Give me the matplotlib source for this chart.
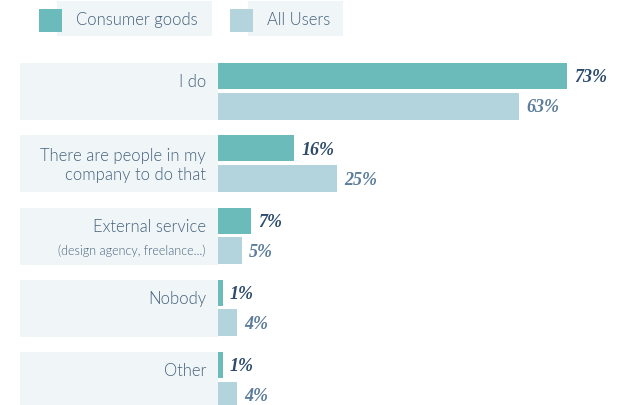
import matplotlib.pyplot as plt
from matplotlib.patches import Rectangle

categories = ["I do", "There are people in my\ncompany to do that", "External service",
              "Nobody", "Other"]
sublabels = ["", "", "(design agency, freelance...)", "", ""]
consumer = [73, 16, 7, 1, 1]
all_users = [63, 25, 5, 4, 4]
series_names = ["Consumer goods", "All Users"]

teal = "#6bbbba"
light = "#b3d3dd"
box = "#f0f5f8"
txt = "#44617c"

# 1 x-unit = 1 %, 4.78 px per %, y in pixels (top down)
px = 4.78
fig = plt.figure(figsize=(6.3, 4.06), dpi=100)
ax = fig.add_axes([0, 0, 1, 1])
ax.set_xlim(-218 / px, (630 - 218) / px)
ax.set_ylim(406, 0)
ax.axis("off")

lbl = dict(family="Lato", weight=300, color=txt)

step = 72.25
for i, cat in enumerate(categories):
    top = 64 + i * step
    ax.add_patch(Rectangle((-198 / px, top), 198 / px, 57, color=box, lw=0))
    ax.barh(top + 13, consumer[i], height=26, left=0, color=teal)
    ax.barh(top + 43, all_users[i], height=27, left=0, color=light)
    ax.text(consumer[i] + 7 / px, top + 14, f"{consumer[i]}%", ha="left", va="center",
            family="Liberation Serif", weight="bold", style="italic", size=13, color="#2c4b6b")
    ax.text(all_users[i] + 7 / px, top + 44, f"{all_users[i]}%", ha="left", va="center",
            family="Liberation Serif", weight="bold", style="italic", size=13, color="#5b7d9b")
    if sublabels[i]:
        ax.text(-12 / px, top + 19, cat, ha="right", va="center", size=12, **lbl)
        ax.text(-12 / px, top + 42, sublabels[i], ha="right", va="center", size=9, **lbl)
    elif "\n" in cat:
        ax.text(-12 / px, top + 29, cat, ha="right", va="center", size=12,
                linespacing=1.25, **lbl)
    else:
        ax.text(-12 / px, top + 18, cat, ha="right", va="center", size=12, **lbl)

# legend
for x_sq, x_box, w_box, col, name in [(39, 57, 155, teal, series_names[0]),
                                      (230, 248, 95, light, series_names[1])]:
    ax.add_patch(Rectangle(((x_box - 218) / px, 2), w_box / px, 35, color=box, lw=0))
    ax.add_patch(Rectangle(((x_sq - 218) / px, 10), 23 / px, 23, color=col, lw=0))
    ax.text((x_sq + 37 - 218) / px, 20, name, ha="left", va="center", size=12, **lbl)

fig.savefig("out.png", dpi=100)
